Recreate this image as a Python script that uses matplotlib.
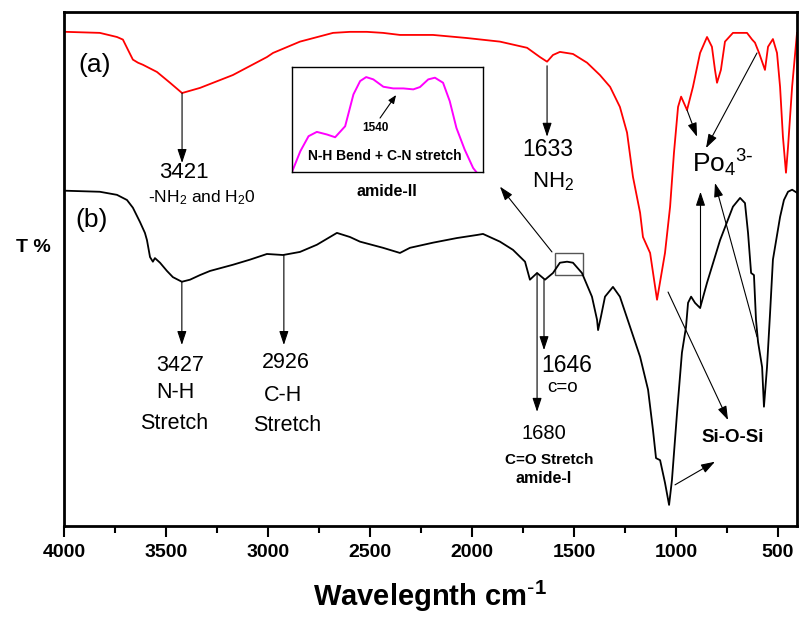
import numpy as np
import matplotlib
matplotlib.use('Agg')
import matplotlib.pyplot as plt
from matplotlib.ticker import MultipleLocator
from matplotlib.patches import Rectangle

plt.rcParams['font.family'] = ['Liberation Sans', 'DejaVu Sans']
plt.rcParams['mathtext.default'] = 'regular'

# spectrum (a) - red
wn_a = [3990, 3824, 3740, 3711, 3686, 3662, 3637, 3613, 3544, 3480, 3421, 3333,
        3172, 3005, 2975, 2843, 2681, 2598, 2515, 2436, 2353, 2191, 2025, 1863,
        1730, 1667, 1632, 1603, 1569, 1505, 1436, 1373, 1323, 1275, 1240, 1211,
        1176, 1162, 1127, 1093, 1054, 1029, 1010, 990, 975, 946, 917, 882, 848,
        824, 809, 799, 780, 760, 721, 652, 627, 613, 593, 564, 549, 525, 505, 490,
        476, 461, 451, 431, 407]
t_a = [96.1, 95.9, 95.1, 94.6, 92.6, 90.7, 90.1, 89.7, 88.3, 86.2, 84.2, 85.2,
       87.7, 91.2, 92.0, 94.2, 95.9, 96.1, 96.1, 95.9, 95.5, 95.5, 94.9, 94.2,
       93.0, 91.2, 90.3, 91.6, 92.2, 91.8, 90.1, 87.7, 85.4, 81.5, 76.5, 67.9,
       60.9, 56.2, 53.1, 44.0, 53.1, 62.1, 72.6, 81.5, 83.5, 80.9, 85.4, 92.0, 95.1,
       93.2, 88.7, 86.2, 88.7, 94.2, 95.9, 95.9, 94.6, 94.0, 92.0, 88.7, 93.2, 94.7,
       92.0, 85.4, 75.7, 68.7, 73.7, 85.4, 95.9]

# spectrum (b) - black
wn_b = [3990, 3824, 3740, 3691, 3662, 3627, 3603, 3593, 3578, 3564, 3554, 3529,
        3495, 3466, 3422, 3382, 3333, 3284, 3172, 3088, 3005, 2926, 2843, 2760,
        2662, 2598, 2549, 2436, 2353, 2304, 2191, 2074, 1975, 1946, 1863, 1799,
        1740, 1716, 1681, 1642, 1603, 1569, 1534, 1505, 1461, 1412, 1387, 1382,
        1368, 1348, 1309, 1275, 1225, 1176, 1137, 1113, 1098, 1078, 1054, 1034,
        1020, 995, 971, 951, 941, 926, 907, 882, 848, 784, 721, 686, 662, 647, 632,
        618, 608, 598, 578, 569, 554, 539, 525, 490, 471, 451, 431, 407]
t_b = [65.2, 65.0, 64.4, 63.4, 61.9, 59.1, 57.0, 55.6, 52.3, 51.4, 52.1, 51.2,
       49.6, 48.4, 47.5, 47.9, 48.8, 49.6, 50.8, 51.8, 52.9, 52.7, 53.3, 54.7,
       57.0, 56.2, 55.3, 54.1, 53.1, 54.1, 55.1, 56.0, 56.6, 56.8, 55.3, 53.7,
       51.4, 47.9, 49.2, 47.9, 49.2, 51.2, 51.4, 51.2, 49.2, 44.6, 40.1, 38.1,
       40.7, 44.6, 46.5, 44.6, 38.7, 32.9, 26.5, 18.7, 13.2, 12.8, 8.4, 4.1,
       8.9, 22.0, 33.7, 38.7, 43.4, 44.6, 43.4, 42.4, 47.3, 55.6, 62.1, 63.8, 62.8,
       57.0, 49.2, 48.8, 40.1, 35.8, 30.9, 23.2, 30.9, 41.4, 51.8, 60.1, 63.4, 65.0,
       65.4, 64.8]

# inset: amide-II region, zoomed
wn_in = [1600, 1594.8, 1589.6, 1584.4, 1578.0, 1572.9, 1566.6, 1561.4, 1557.2,
         1553.4, 1548.9, 1542.6, 1536.4, 1530.0, 1523.8, 1519.6, 1514.4, 1510.2,
         1505.1, 1500.9, 1496.7, 1491.5, 1486.2, 1484.2]
t_in = [0, 19.7, 34.1, 38.2, 35.7, 33.1, 43.6, 73.9, 86.6, 90.4, 88.2, 81.2,
        79.6, 79.6, 78.7, 80.9, 88.2, 89.8, 85.0, 67.5, 42.0, 21.3, 3.8, 0]

xticks = [4000, 3500, 3000, 2500, 2000, 1500, 1000, 500]

fig = plt.figure(figsize=(7.99, 6.21), dpi=100)
ax = fig.add_axes([0.080, 0.153, 0.9175, 0.828])

ax.plot(wn_a, t_a, color='#ff0000', lw=1.3)
ax.plot(wn_b, t_b, color='black', lw=1.3)

ax.set_xlim(4000, 407)
ax.set_ylim(0, 100)
ax.set_xticks(xticks)
ax.xaxis.set_minor_locator(MultipleLocator(250))
ax.set_yticks([])
ax.tick_params(axis='x', which='major', length=8, width=1.5, labelsize=14, pad=5)
ax.tick_params(axis='x', which='minor', length=5, width=1.5)
for lab in ax.get_xticklabels():
    lab.set_fontweight('bold')
for s in ax.spines.values():
    s.set_linewidth(2)

ax.set_xlabel(r'Wavelegnth cm$^{\text{-}1}$', fontsize=21, fontweight='bold', labelpad=13)
fig.text(33/799, 1-248/621, 'T %', fontsize=14, fontweight='bold', ha='center', va='center')

ax.text(3848, 89.7, '(a)', fontsize=19, ha='center', va='center')
ax.text(3863, 59.5, '(b)', fontsize=19, ha='center', va='center')

arr = dict(arrowstyle='-|>,head_length=0.6,head_width=0.2', color='black', lw=0.8,
           shrinkA=0, shrinkB=0, mutation_scale=14)

def arrow(start, tip):
    ax.annotate('', xy=tip, xytext=start, arrowprops=arr)

# (a) annotations
arrow((3421, 84.2), (3421, 70.6))
ax.text(3412, 68.7, '3421', fontsize=16, ha='center', va='center')
ax.text(3323, 63.0, '-NH$_2$ and H$_2$0', fontsize=12.5, ha='center', va='baseline')

arrow((1632, 89.5), (1632, 75.7))
ax.text(1627, 73.3, '1633', fontsize=16.5, ha='center', va='center')
ax.text(1603, 65.8, 'NH$_2$', fontsize=16, ha='center', va='baseline')

ax.text(770, 68.7, r'Po$_4$$^{3\text{-}}$', fontsize=19, ha='center', va='baseline')
arrow((946, 80.9), (897, 75.7))
arrow((603, 92.0), (853, 73.5))
arrow((880, 42.4), (880, 65.0))
arrow((603, 36.8), (809, 66.7))

# (b) annotations
arrow((3422, 47.5), (3422, 35.2))
ax.text(3431, 31.3, '3427', fontsize=15.5, ha='center', va='center')
ax.text(3456, 25.9, 'N-H', fontsize=15.5, ha='center', va='center')
ax.text(3461, 20.0, 'Stretch', fontsize=15.5, ha='center', va='center')

arrow((2922, 52.7), (2922, 35.2))
ax.text(2912, 31.7, '2926', fontsize=15.5, ha='center', va='center')
ax.text(2926, 25.3, 'C-H', fontsize=15.5, ha='center', va='center')
ax.text(2907, 19.6, 'Stretch', fontsize=15.5, ha='center', va='center')

arrow((1647, 47.9), (1647, 34.2))
ax.text(1534, 31.2, '1646', fontsize=16.5, ha='center', va='center')
ax.text(1554, 26.9, 'c=o', fontsize=13.5, ha='center', va='center')

arrow((1681, 49.2), (1681, 22.2))
ax.text(1647, 17.9, '1680', fontsize=14.5, ha='center', va='center')
ax.text(1622, 12.8, 'C=O Stretch', fontsize=11, fontweight='bold', ha='center', va='center')
ax.text(1647, 9.3, 'amide-I', fontsize=11.5, fontweight='bold', ha='center', va='center')

ax.text(720, 17.3, 'Si-O-Si', fontsize=13.5, fontweight='bold', ha='center', va='center')
arrow((1039, 45.5), (745, 20.6))
arrow((1005, 8.0), (809, 12.5))

# zoom box and pointer to inset
ax.add_patch(Rectangle((1593, 48.8), 1456 - 1593, 53.1 - 48.8, fill=False,
                       edgecolor='#555555', lw=1))
arrow((1608, 53.3), (1863, 66.0))

# inset
axin = fig.add_axes([292/799, 1-172/621, 191/799, 105/621])
axin.plot(wn_in, t_in, color='#ff00ff', lw=1.4)
axin.set_xlim(1600, 1480)
axin.set_ylim(0, 100)
axin.set_xticks([])
axin.set_yticks([])
for s in axin.spines.values():
    s.set_linewidth(1)
axin.text(0.435, 0.419, '1540', fontsize=8.5, fontweight='bold', ha='center', va='center',
          transform=axin.transAxes)
axin.annotate('', xy=(0.545, 0.733), xytext=(0.461, 0.514), xycoords='axes fraction',
              arrowprops=dict(arrowstyle='-|>,head_length=0.5,head_width=0.2', color='black',
                              lw=0.8, shrinkA=0, shrinkB=0, mutation_scale=10))
axin.text(0.487, 0.152, 'N-H Bend + C-N stretch', fontsize=10, fontweight='bold',
          ha='center', va='center', transform=axin.transAxes)
axin.text(0.497, -0.19, 'amide-II', fontsize=11.5, fontweight='bold', ha='center',
          va='center', transform=axin.transAxes)

fig.savefig('out.png', dpi=100)
